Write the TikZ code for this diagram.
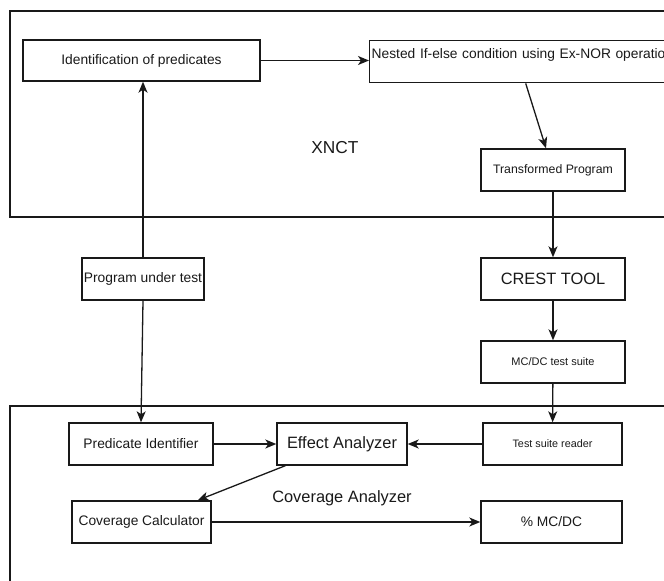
\documentclass[tikz,border=0pt]{standalone}
\usepackage{fontspec}
\setmainfont{Liberation Sans}
\usepackage{tikz}
\usetikzlibrary{arrows.meta,calc,positioning}
\definecolor{xnink}{RGB}{25,25,25}

\begin{document}
\begin{tikzpicture}[x=1pt, y=-1pt, line join=miter,
   blk/.style={draw=xnink, line width=1.4pt, inner xsep=1pt, inner ysep=0pt, minimum height=42pt, text=xnink},
   flow/.style={draw=xnink, line width=1.3pt, -{Stealth[length=11pt,width=9pt,inset=3pt]}},
   frame/.style={draw=xnink, line width=1.5pt},
   ftmain/.style={font=\fontsize{13.8}{16}\selectfont},
   ftbig/.style={font=\fontsize{16.4}{19}\selectfont},
   ftsmall/.style={font=\fontsize{11}{13}\selectfont}]
   \path[use as bounding box] (0,0) rectangle (664,581); % page size of the figure
   \clip (0,0) rectangle (664,581);

   % XNCT block (runs off the right edge)
   \draw[frame] (10,11) rectangle (720,217);
   \node[ftbig, font=\fontsize{17.3}{20}\selectfont, text=xnink] (xnct) at (335,148) {XNCT};

   \node[blk, ftmain, minimum width=237pt, minimum height=41pt] (ident) at (141.5,60.5) {Identification of predicates};
   \node[blk, ftmain, anchor=north west, text width=308pt, align=left, inner xsep=2pt,
         text height=17pt, text depth=24pt] (nest) at (369,40) {Nested If-else condition using Ex-NOR operation};
   \node[blk, ftsmall, font=\fontsize{12.3}{14}\selectfont, minimum width=144pt] (trans) at (553,170) {Transformed Program};

   % between the two blocks
   \node[blk, ftmain, minimum width=122pt] (put) at (143,279) {Program under test};
   \node[blk, ftbig, minimum width=144pt] (crest) at (553,279) {CREST TOOL};
   \node[blk, ftsmall, minimum width=144pt] (suite) at (553,362) {MC/DC test suite};

   % coverage analyzer block
   \draw[frame] (10,406) rectangle (720,640);
   \node[ftbig, text=xnink] (covlbl) at (342,498) {Coverage Analyzer};

   \node[blk, ftmain, minimum width=144pt] (pred) at (141,444) {Predicate Identifier};
   \node[blk, ftbig, minimum width=130pt] (effect) at (342,444) {Effect Analyzer};
   \node[blk, ftsmall, font=\fontsize{10.8}{13}\selectfont, minimum width=139pt] (reader) at (552.5,444) {Test suite reader};
   \node[blk, ftmain, minimum width=139pt] (calc) at (141.5,522) {Coverage Calculator};
   \node[blk, ftmain, minimum width=141pt] (mcdc) at (551.5,522) {\% MC/DC};

   % connectors
   \draw[flow] (ident) -- (nest.west |- ident);
   \draw[flow] (nest.south) -- ($(trans.north)+(-7,0)$);
   \draw[flow] (put.north) -- (put.north |- ident.south);
   \draw[flow] (put.south) -- (pred.north);
   \draw[flow] (trans) -- (crest);
   \draw[flow] (crest) -- (suite);
   \draw[flow] (suite) -- (reader);
   \draw[flow] (pred) -- (effect);
   \draw[flow] (reader) -- (effect);
   \draw[flow] ($(effect.south west)+(9,0)$) -- ($(calc.north east)+(-14,0)$);
   \draw[flow] (calc) -- (mcdc);
\end{tikzpicture}
\end{document}
